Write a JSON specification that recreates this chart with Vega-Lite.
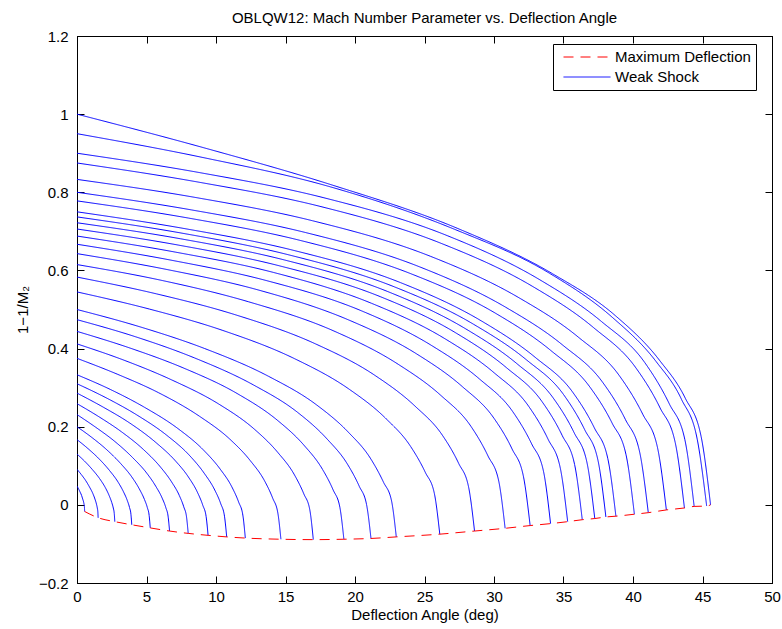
{
  "$schema": "https://vega.github.io/schema/vega-lite/v6.json",
  "width": 695,
  "height": 547,
  "autosize": {"type": "none"},
  "padding": {"left": 77, "top": 36, "right": 10, "bottom": 46},
  "background": "white",
  "title": {"text": "OBLQW12: Mach Number Parameter vs. Deflection Angle", "fontSize": 15, "font": "Liberation Sans", "fontWeight": "normal", "offset": 3, "anchor": "middle", "color": "black"},
  "config": {
    "view": {"stroke": "black", "strokeWidth": 1},
    "axis": {"domainColor": "black", "domainWidth": 1, "tickColor": "black", "tickWidth": 1, "tickSize": -7, "labelColor": "black", "labelFont": "Liberation Sans", "labelFontSize": 15, "titleFont": "Liberation Sans", "titleFontSize": 15, "titleFontWeight": "normal", "titleColor": "black", "grid": false, "labelFlush": false, "labelOverlap": false},
    "legend": {"title": null, "orient": "none", "legendX": 476, "legendY": 8, "direction": "vertical", "symbolType": "M-3.133,0H3.133", "symbolSize": 225, "symbolStrokeWidth": 1, "symbolOffset": 21, "labelOffset": 20, "labelFontSize": 15, "labelFont": "Liberation Sans", "labelColor": "black", "strokeColor": "black", "fillColor": "white", "padding": 5, "rowPadding": 4, "cornerRadius": 0}
  },
  "data": {"values": [
    {"m":"1.05","s":"Weak Shock","x":0,"y":0.048},{"m":"1.05","s":"Weak Shock","x":0.11,"y":0.041},{"m":"1.05","s":"Weak Shock","x":0.22,"y":0.033},{"m":"1.05","s":"Weak Shock","x":0.33,"y":0.024},{"m":"1.05","s":"Weak Shock","x":0.41,"y":0.015},{"m":"1.05","s":"Weak Shock","x":0.47,"y":0.008},{"m":"1.05","s":"Weak Shock","x":0.51,"y":0.001},{"m":"1.05","s":"Weak Shock","x":0.53,"y":-0.004},{"m":"1.05","s":"Weak Shock","x":0.54,"y":-0.009},{"m":"1.05","s":"Weak Shock","x":0.55,"y":-0.017},
    {"m":"1.1","s":"Weak Shock","x":0,"y":0.091},{"m":"1.1","s":"Weak Shock","x":0.30,"y":0.078},{"m":"1.1","s":"Weak Shock","x":0.61,"y":0.063},{"m":"1.1","s":"Weak Shock","x":0.91,"y":0.045},{"m":"1.1","s":"Weak Shock","x":1.14,"y":0.029},{"m":"1.1","s":"Weak Shock","x":1.29,"y":0.015},{"m":"1.1","s":"Weak Shock","x":1.40,"y":0.002},{"m":"1.1","s":"Weak Shock","x":1.46,"y":-0.008},{"m":"1.1","s":"Weak Shock","x":1.50,"y":-0.018},{"m":"1.1","s":"Weak Shock","x":1.52,"y":-0.033},
    {"m":"1.15","s":"Weak Shock","x":0,"y":0.130},{"m":"1.15","s":"Weak Shock","x":0.54,"y":0.112},{"m":"1.15","s":"Weak Shock","x":1.09,"y":0.091},{"m":"1.15","s":"Weak Shock","x":1.63,"y":0.067},{"m":"1.15","s":"Weak Shock","x":2.04,"y":0.044},{"m":"1.15","s":"Weak Shock","x":2.31,"y":0.024},{"m":"1.15","s":"Weak Shock","x":2.50,"y":0.006},{"m":"1.15","s":"Weak Shock","x":2.61,"y":-0.008},{"m":"1.15","s":"Weak Shock","x":2.68,"y":-0.022},{"m":"1.15","s":"Weak Shock","x":2.72,"y":-0.043},
    {"m":"1.2","s":"Weak Shock","x":0,"y":0.167},{"m":"1.2","s":"Weak Shock","x":0.79,"y":0.144},{"m":"1.2","s":"Weak Shock","x":1.58,"y":0.118},{"m":"1.2","s":"Weak Shock","x":2.36,"y":0.087},{"m":"1.2","s":"Weak Shock","x":2.96,"y":0.058},{"m":"1.2","s":"Weak Shock","x":3.35,"y":0.033},{"m":"1.2","s":"Weak Shock","x":3.62,"y":0.011},{"m":"1.2","s":"Weak Shock","x":3.78,"y":-0.007},{"m":"1.2","s":"Weak Shock","x":3.88,"y":-0.024},{"m":"1.2","s":"Weak Shock","x":3.94,"y":-0.051},
    {"m":"1.25","s":"Weak Shock","x":0,"y":0.200},{"m":"1.25","s":"Weak Shock","x":1.05,"y":0.173},{"m":"1.25","s":"Weak Shock","x":2.11,"y":0.142},{"m":"1.25","s":"Weak Shock","x":3.16,"y":0.105},{"m":"1.25","s":"Weak Shock","x":3.95,"y":0.071},{"m":"1.25","s":"Weak Shock","x":4.48,"y":0.041},{"m":"1.25","s":"Weak Shock","x":4.85,"y":0.014},{"m":"1.25","s":"Weak Shock","x":5.06,"y":-0.007},{"m":"1.25","s":"Weak Shock","x":5.19,"y":-0.027},{"m":"1.25","s":"Weak Shock","x":5.27,"y":-0.059},
    {"m":"1.3","s":"Weak Shock","x":0,"y":0.231},{"m":"1.3","s":"Weak Shock","x":1.33,"y":0.199},{"m":"1.3","s":"Weak Shock","x":2.66,"y":0.164},{"m":"1.3","s":"Weak Shock","x":4.0,"y":0.121},{"m":"1.3","s":"Weak Shock","x":5.0,"y":0.082},{"m":"1.3","s":"Weak Shock","x":5.66,"y":0.048},{"m":"1.3","s":"Weak Shock","x":6.13,"y":0.017},{"m":"1.3","s":"Weak Shock","x":6.39,"y":-0.007},{"m":"1.3","s":"Weak Shock","x":6.56,"y":-0.031},{"m":"1.3","s":"Weak Shock","x":6.66,"y":-0.067},
    {"m":"1.35","s":"Weak Shock","x":0,"y":0.259},{"m":"1.35","s":"Weak Shock","x":1.6,"y":0.225},{"m":"1.35","s":"Weak Shock","x":3.2,"y":0.187},{"m":"1.35","s":"Weak Shock","x":4.8,"y":0.141},{"m":"1.35","s":"Weak Shock","x":6.0,"y":0.097},{"m":"1.35","s":"Weak Shock","x":6.8,"y":0.059},{"m":"1.35","s":"Weak Shock","x":7.36,"y":0.024},{"m":"1.35","s":"Weak Shock","x":7.68,"y":-0.005},{"m":"1.35","s":"Weak Shock","x":7.88,"y":-0.031},{"m":"1.35","s":"Weak Shock","x":8.0,"y":-0.073},
    {"m":"1.4","s":"Weak Shock","x":0,"y":0.286},{"m":"1.4","s":"Weak Shock","x":1.89,"y":0.250},{"m":"1.4","s":"Weak Shock","x":3.77,"y":0.210},{"m":"1.4","s":"Weak Shock","x":5.66,"y":0.160},{"m":"1.4","s":"Weak Shock","x":7.07,"y":0.113},{"m":"1.4","s":"Weak Shock","x":8.02,"y":0.071},{"m":"1.4","s":"Weak Shock","x":8.68,"y":0.031},{"m":"1.4","s":"Weak Shock","x":9.05,"y":-0.001},{"m":"1.4","s":"Weak Shock","x":9.29,"y":-0.030},{"m":"1.4","s":"Weak Shock","x":9.43,"y":-0.078},
    {"m":"1.45","s":"Weak Shock","x":0,"y":0.310},{"m":"1.45","s":"Weak Shock","x":2.15,"y":0.273},{"m":"1.45","s":"Weak Shock","x":4.31,"y":0.230},{"m":"1.45","s":"Weak Shock","x":6.46,"y":0.178},{"m":"1.45","s":"Weak Shock","x":8.08,"y":0.127},{"m":"1.45","s":"Weak Shock","x":9.15,"y":0.081},{"m":"1.45","s":"Weak Shock","x":9.91,"y":0.038},{"m":"1.45","s":"Weak Shock","x":10.34,"y":0.003},{"m":"1.45","s":"Weak Shock","x":10.61,"y":-0.029},{"m":"1.45","s":"Weak Shock","x":10.77,"y":-0.082},
    {"m":"1.5","s":"Weak Shock","x":0,"y":0.333},{"m":"1.5","s":"Weak Shock","x":2.42,"y":0.295},{"m":"1.5","s":"Weak Shock","x":4.84,"y":0.250},{"m":"1.5","s":"Weak Shock","x":7.27,"y":0.195},{"m":"1.5","s":"Weak Shock","x":9.08,"y":0.141},{"m":"1.5","s":"Weak Shock","x":10.29,"y":0.092},{"m":"1.5","s":"Weak Shock","x":11.14,"y":0.046},{"m":"1.5","s":"Weak Shock","x":11.63,"y":0.007},{"m":"1.5","s":"Weak Shock","x":11.93,"y":-0.026},{"m":"1.5","s":"Weak Shock","x":12.11,"y":-0.085},
    {"m":"1.6","s":"Weak Shock","x":0,"y":0.375},{"m":"1.6","s":"Weak Shock","x":2.93,"y":0.334},{"m":"1.6","s":"Weak Shock","x":5.87,"y":0.287},{"m":"1.6","s":"Weak Shock","x":8.80,"y":0.227},{"m":"1.6","s":"Weak Shock","x":11.0,"y":0.168},{"m":"1.6","s":"Weak Shock","x":12.47,"y":0.113},{"m":"1.6","s":"Weak Shock","x":13.5,"y":0.061},{"m":"1.6","s":"Weak Shock","x":14.08,"y":0.017},{"m":"1.6","s":"Weak Shock","x":14.45,"y":-0.021},{"m":"1.6","s":"Weak Shock","x":14.67,"y":-0.088},
    {"m":"1.7","s":"Weak Shock","x":0,"y":0.412},{"m":"1.7","s":"Weak Shock","x":3.4,"y":0.370},{"m":"1.7","s":"Weak Shock","x":6.8,"y":0.320},{"m":"1.7","s":"Weak Shock","x":10.2,"y":0.258},{"m":"1.7","s":"Weak Shock","x":12.75,"y":0.194},{"m":"1.7","s":"Weak Shock","x":14.45,"y":0.134},{"m":"1.7","s":"Weak Shock","x":15.64,"y":0.077},{"m":"1.7","s":"Weak Shock","x":16.32,"y":0.028},{"m":"1.7","s":"Weak Shock","x":16.75,"y":-0.013},{"m":"1.7","s":"Weak Shock","x":17.0,"y":-0.089},
    {"m":"1.8","s":"Weak Shock","x":0,"y":0.444},{"m":"1.8","s":"Weak Shock","x":3.84,"y":0.401},{"m":"1.8","s":"Weak Shock","x":7.68,"y":0.350},{"m":"1.8","s":"Weak Shock","x":11.52,"y":0.285},{"m":"1.8","s":"Weak Shock","x":14.4,"y":0.217},{"m":"1.8","s":"Weak Shock","x":16.32,"y":0.153},{"m":"1.8","s":"Weak Shock","x":17.66,"y":0.091},{"m":"1.8","s":"Weak Shock","x":18.43,"y":0.038},{"m":"1.8","s":"Weak Shock","x":18.91,"y":-0.006},{"m":"1.8","s":"Weak Shock","x":19.2,"y":-0.088},
    {"m":"1.9","s":"Weak Shock","x":0,"y":0.474},{"m":"1.9","s":"Weak Shock","x":4.23,"y":0.430},{"m":"1.9","s":"Weak Shock","x":8.46,"y":0.376},{"m":"1.9","s":"Weak Shock","x":12.69,"y":0.307},{"m":"1.9","s":"Weak Shock","x":15.86,"y":0.237},{"m":"1.9","s":"Weak Shock","x":17.98,"y":0.169},{"m":"1.9","s":"Weak Shock","x":19.46,"y":0.104},{"m":"1.9","s":"Weak Shock","x":20.3,"y":0.048},{"m":"1.9","s":"Weak Shock","x":20.83,"y":0.001},{"m":"1.9","s":"Weak Shock","x":21.15,"y":-0.086},
    {"m":"2","s":"Weak Shock","x":0,"y":0.500},{"m":"2","s":"Weak Shock","x":4.59,"y":0.455},{"m":"2","s":"Weak Shock","x":9.19,"y":0.400},{"m":"2","s":"Weak Shock","x":13.78,"y":0.329},{"m":"2","s":"Weak Shock","x":17.23,"y":0.256},{"m":"2","s":"Weak Shock","x":19.52,"y":0.186},{"m":"2","s":"Weak Shock","x":21.13,"y":0.118},{"m":"2","s":"Weak Shock","x":22.05,"y":0.058},{"m":"2","s":"Weak Shock","x":22.63,"y":0.010},{"m":"2","s":"Weak Shock","x":22.97,"y":-0.082},
    {"m":"2.2","s":"Weak Shock","x":0,"y":0.545},{"m":"2.2","s":"Weak Shock","x":5.22,"y":0.501},{"m":"2.2","s":"Weak Shock","x":10.44,"y":0.447},{"m":"2.2","s":"Weak Shock","x":15.66,"y":0.374},{"m":"2.2","s":"Weak Shock","x":19.58,"y":0.296},{"m":"2.2","s":"Weak Shock","x":22.19,"y":0.222},{"m":"2.2","s":"Weak Shock","x":24.01,"y":0.149},{"m":"2.2","s":"Weak Shock","x":25.06,"y":0.083},{"m":"2.2","s":"Weak Shock","x":25.71,"y":0.029},{"m":"2.2","s":"Weak Shock","x":26.1,"y":-0.075},
    {"m":"2.4","s":"Weak Shock","x":0,"y":0.583},{"m":"2.4","s":"Weak Shock","x":5.72,"y":0.540},{"m":"2.4","s":"Weak Shock","x":11.44,"y":0.486},{"m":"2.4","s":"Weak Shock","x":17.16,"y":0.412},{"m":"2.4","s":"Weak Shock","x":21.45,"y":0.331},{"m":"2.4","s":"Weak Shock","x":24.31,"y":0.253},{"m":"2.4","s":"Weak Shock","x":26.31,"y":0.177},{"m":"2.4","s":"Weak Shock","x":27.46,"y":0.106},{"m":"2.4","s":"Weak Shock","x":28.17,"y":0.046},{"m":"2.4","s":"Weak Shock","x":28.6,"y":-0.067},
    {"m":"2.6","s":"Weak Shock","x":0,"y":0.615},{"m":"2.6","s":"Weak Shock","x":6.16,"y":0.574},{"m":"2.6","s":"Weak Shock","x":12.32,"y":0.520},{"m":"2.6","s":"Weak Shock","x":18.48,"y":0.445},{"m":"2.6","s":"Weak Shock","x":23.1,"y":0.360},{"m":"2.6","s":"Weak Shock","x":26.18,"y":0.280},{"m":"2.6","s":"Weak Shock","x":28.34,"y":0.201},{"m":"2.6","s":"Weak Shock","x":29.57,"y":0.125},{"m":"2.6","s":"Weak Shock","x":30.34,"y":0.061},{"m":"2.6","s":"Weak Shock","x":30.8,"y":-0.060},
    {"m":"2.8","s":"Weak Shock","x":0,"y":0.643},{"m":"2.8","s":"Weak Shock","x":6.52,"y":0.602},{"m":"2.8","s":"Weak Shock","x":13.04,"y":0.550},{"m":"2.8","s":"Weak Shock","x":19.56,"y":0.473},{"m":"2.8","s":"Weak Shock","x":24.45,"y":0.386},{"m":"2.8","s":"Weak Shock","x":27.71,"y":0.303},{"m":"2.8","s":"Weak Shock","x":29.99,"y":0.222},{"m":"2.8","s":"Weak Shock","x":31.3,"y":0.143},{"m":"2.8","s":"Weak Shock","x":32.11,"y":0.074},{"m":"2.8","s":"Weak Shock","x":32.6,"y":-0.053},
    {"m":"3","s":"Weak Shock","x":0,"y":0.667},{"m":"3","s":"Weak Shock","x":6.81,"y":0.626},{"m":"3","s":"Weak Shock","x":13.63,"y":0.574},{"m":"3","s":"Weak Shock","x":20.44,"y":0.497},{"m":"3","s":"Weak Shock","x":25.55,"y":0.407},{"m":"3","s":"Weak Shock","x":28.96,"y":0.322},{"m":"3","s":"Weak Shock","x":31.34,"y":0.239},{"m":"3","s":"Weak Shock","x":32.71,"y":0.156},{"m":"3","s":"Weak Shock","x":33.56,"y":0.086},{"m":"3","s":"Weak Shock","x":34.07,"y":-0.048},
    {"m":"3.2","s":"Weak Shock","x":0,"y":0.688},{"m":"3.2","s":"Weak Shock","x":7.06,"y":0.647},{"m":"3.2","s":"Weak Shock","x":14.12,"y":0.595},{"m":"3.2","s":"Weak Shock","x":21.18,"y":0.516},{"m":"3.2","s":"Weak Shock","x":26.48,"y":0.425},{"m":"3.2","s":"Weak Shock","x":30.01,"y":0.338},{"m":"3.2","s":"Weak Shock","x":32.48,"y":0.253},{"m":"3.2","s":"Weak Shock","x":33.89,"y":0.168},{"m":"3.2","s":"Weak Shock","x":34.77,"y":0.094},{"m":"3.2","s":"Weak Shock","x":35.3,"y":-0.043},
    {"m":"3.4","s":"Weak Shock","x":0,"y":0.706},{"m":"3.4","s":"Weak Shock","x":7.27,"y":0.665},{"m":"3.4","s":"Weak Shock","x":14.54,"y":0.612},{"m":"3.4","s":"Weak Shock","x":21.81,"y":0.533},{"m":"3.4","s":"Weak Shock","x":27.26,"y":0.440},{"m":"3.4","s":"Weak Shock","x":30.9,"y":0.351},{"m":"3.4","s":"Weak Shock","x":33.44,"y":0.265},{"m":"3.4","s":"Weak Shock","x":34.9,"y":0.178},{"m":"3.4","s":"Weak Shock","x":35.8,"y":0.103},{"m":"3.4","s":"Weak Shock","x":36.35,"y":-0.038},
    {"m":"3.6","s":"Weak Shock","x":0,"y":0.722},{"m":"3.6","s":"Weak Shock","x":7.45,"y":0.681},{"m":"3.6","s":"Weak Shock","x":14.9,"y":0.627},{"m":"3.6","s":"Weak Shock","x":22.35,"y":0.546},{"m":"3.6","s":"Weak Shock","x":27.94,"y":0.451},{"m":"3.6","s":"Weak Shock","x":31.66,"y":0.361},{"m":"3.6","s":"Weak Shock","x":34.27,"y":0.273},{"m":"3.6","s":"Weak Shock","x":35.76,"y":0.185},{"m":"3.6","s":"Weak Shock","x":36.69,"y":0.108},{"m":"3.6","s":"Weak Shock","x":37.25,"y":-0.035},
    {"m":"3.8","s":"Weak Shock","x":0,"y":0.737},{"m":"3.8","s":"Weak Shock","x":7.61,"y":0.695},{"m":"3.8","s":"Weak Shock","x":15.22,"y":0.640},{"m":"3.8","s":"Weak Shock","x":22.83,"y":0.558},{"m":"3.8","s":"Weak Shock","x":28.54,"y":0.462},{"m":"3.8","s":"Weak Shock","x":32.34,"y":0.371},{"m":"3.8","s":"Weak Shock","x":35.01,"y":0.282},{"m":"3.8","s":"Weak Shock","x":36.53,"y":0.192},{"m":"3.8","s":"Weak Shock","x":37.48,"y":0.114},{"m":"3.8","s":"Weak Shock","x":38.05,"y":-0.031},
    {"m":"4","s":"Weak Shock","x":0,"y":0.750},{"m":"4","s":"Weak Shock","x":7.75,"y":0.707},{"m":"4","s":"Weak Shock","x":15.51,"y":0.652},{"m":"4","s":"Weak Shock","x":23.26,"y":0.569},{"m":"4","s":"Weak Shock","x":29.08,"y":0.471},{"m":"4","s":"Weak Shock","x":32.95,"y":0.378},{"m":"4","s":"Weak Shock","x":35.67,"y":0.288},{"m":"4","s":"Weak Shock","x":37.22,"y":0.197},{"m":"4","s":"Weak Shock","x":38.19,"y":0.118},{"m":"4","s":"Weak Shock","x":38.77,"y":-0.029},
    {"m":"4.5","s":"Weak Shock","x":0,"y":0.778},{"m":"4.5","s":"Weak Shock","x":8.02,"y":0.734},{"m":"4.5","s":"Weak Shock","x":16.04,"y":0.677},{"m":"4.5","s":"Weak Shock","x":24.06,"y":0.591},{"m":"4.5","s":"Weak Shock","x":30.08,"y":0.491},{"m":"4.5","s":"Weak Shock","x":34.09,"y":0.395},{"m":"4.5","s":"Weak Shock","x":36.89,"y":0.302},{"m":"4.5","s":"Weak Shock","x":38.5,"y":0.209},{"m":"4.5","s":"Weak Shock","x":39.5,"y":0.128},{"m":"4.5","s":"Weak Shock","x":40.1,"y":-0.024},
    {"m":"5","s":"Weak Shock","x":0,"y":0.800},{"m":"5","s":"Weak Shock","x":8.22,"y":0.755},{"m":"5","s":"Weak Shock","x":16.44,"y":0.697},{"m":"5","s":"Weak Shock","x":24.66,"y":0.609},{"m":"5","s":"Weak Shock","x":30.83,"y":0.506},{"m":"5","s":"Weak Shock","x":34.94,"y":0.409},{"m":"5","s":"Weak Shock","x":37.81,"y":0.314},{"m":"5","s":"Weak Shock","x":39.46,"y":0.218},{"m":"5","s":"Weak Shock","x":40.48,"y":0.135},{"m":"5","s":"Weak Shock","x":41.1,"y":-0.020},
    {"m":"6","s":"Weak Shock","x":0,"y":0.833},{"m":"6","s":"Weak Shock","x":8.48,"y":0.787},{"m":"6","s":"Weak Shock","x":16.96,"y":0.727},{"m":"6","s":"Weak Shock","x":25.44,"y":0.636},{"m":"6","s":"Weak Shock","x":31.8,"y":0.530},{"m":"6","s":"Weak Shock","x":36.04,"y":0.430},{"m":"6","s":"Weak Shock","x":39.01,"y":0.331},{"m":"6","s":"Weak Shock","x":40.7,"y":0.232},{"m":"6","s":"Weak Shock","x":41.76,"y":0.147},{"m":"6","s":"Weak Shock","x":42.4,"y":-0.013},
    {"m":"8","s":"Weak Shock","x":0,"y":0.875},{"m":"8","s":"Weak Shock","x":8.74,"y":0.826},{"m":"8","s":"Weak Shock","x":17.48,"y":0.764},{"m":"8","s":"Weak Shock","x":26.22,"y":0.669},{"m":"8","s":"Weak Shock","x":32.78,"y":0.559},{"m":"8","s":"Weak Shock","x":37.15,"y":0.454},{"m":"8","s":"Weak Shock","x":40.2,"y":0.351},{"m":"8","s":"Weak Shock","x":41.95,"y":0.248},{"m":"8","s":"Weak Shock","x":43.04,"y":0.159},{"m":"8","s":"Weak Shock","x":43.7,"y":-0.008},
    {"m":"10","s":"Weak Shock","x":0,"y":0.900},{"m":"10","s":"Weak Shock","x":8.88,"y":0.850},{"m":"10","s":"Weak Shock","x":17.76,"y":0.786},{"m":"10","s":"Weak Shock","x":26.64,"y":0.689},{"m":"10","s":"Weak Shock","x":33.3,"y":0.576},{"m":"10","s":"Weak Shock","x":37.74,"y":0.469},{"m":"10","s":"Weak Shock","x":40.85,"y":0.364},{"m":"10","s":"Weak Shock","x":42.62,"y":0.258},{"m":"10","s":"Weak Shock","x":43.73,"y":0.167},{"m":"10","s":"Weak Shock","x":44.4,"y":-0.004},
    {"m":"20","s":"Weak Shock","x":0,"y":0.950},{"m":"20","s":"Weak Shock","x":9.06,"y":0.889},{"m":"20","s":"Weak Shock","x":18.12,"y":0.815},{"m":"20","s":"Weak Shock","x":27.18,"y":0.705},{"m":"20","s":"Weak Shock","x":33.98,"y":0.593},{"m":"20","s":"Weak Shock","x":38.51,"y":0.480},{"m":"20","s":"Weak Shock","x":41.68,"y":0.366},{"m":"20","s":"Weak Shock","x":43.49,"y":0.270},{"m":"20","s":"Weak Shock","x":44.62,"y":0.168},{"m":"20","s":"Weak Shock","x":45.3,"y":-0.003},
    {"m":"inf","s":"Weak Shock","x":0,"y":1.0},{"m":"inf","s":"Weak Shock","x":9.12,"y":0.914},{"m":"inf","s":"Weak Shock","x":18.23,"y":0.820},{"m":"inf","s":"Weak Shock","x":27.35,"y":0.708},{"m":"inf","s":"Weak Shock","x":34.19,"y":0.592},{"m":"inf","s":"Weak Shock","x":38.74,"y":0.484},{"m":"inf","s":"Weak Shock","x":41.93,"y":0.369},{"m":"inf","s":"Weak Shock","x":43.76,"y":0.273},{"m":"inf","s":"Weak Shock","x":44.9,"y":0.175},{"m":"inf","s":"Weak Shock","x":45.58,"y":0.0},
    {"m":"max","s":"Maximum Deflection","x":0.55,"y":-0.017},{"m":"max","s":"Maximum Deflection","x":1.52,"y":-0.033},{"m":"max","s":"Maximum Deflection","x":2.72,"y":-0.043},{"m":"max","s":"Maximum Deflection","x":3.94,"y":-0.051},{"m":"max","s":"Maximum Deflection","x":5.27,"y":-0.059},{"m":"max","s":"Maximum Deflection","x":6.66,"y":-0.067},{"m":"max","s":"Maximum Deflection","x":8.0,"y":-0.073},{"m":"max","s":"Maximum Deflection","x":9.43,"y":-0.078},{"m":"max","s":"Maximum Deflection","x":10.77,"y":-0.082},{"m":"max","s":"Maximum Deflection","x":12.11,"y":-0.085},{"m":"max","s":"Maximum Deflection","x":14.67,"y":-0.088},{"m":"max","s":"Maximum Deflection","x":17.0,"y":-0.089},{"m":"max","s":"Maximum Deflection","x":19.2,"y":-0.088},{"m":"max","s":"Maximum Deflection","x":21.15,"y":-0.086},{"m":"max","s":"Maximum Deflection","x":22.97,"y":-0.082},{"m":"max","s":"Maximum Deflection","x":26.1,"y":-0.075},{"m":"max","s":"Maximum Deflection","x":28.6,"y":-0.067},{"m":"max","s":"Maximum Deflection","x":30.8,"y":-0.060},{"m":"max","s":"Maximum Deflection","x":32.6,"y":-0.053},{"m":"max","s":"Maximum Deflection","x":34.07,"y":-0.048},{"m":"max","s":"Maximum Deflection","x":35.3,"y":-0.043},{"m":"max","s":"Maximum Deflection","x":36.35,"y":-0.038},{"m":"max","s":"Maximum Deflection","x":37.25,"y":-0.035},{"m":"max","s":"Maximum Deflection","x":38.05,"y":-0.031},{"m":"max","s":"Maximum Deflection","x":38.77,"y":-0.029},{"m":"max","s":"Maximum Deflection","x":40.1,"y":-0.024},{"m":"max","s":"Maximum Deflection","x":41.1,"y":-0.020},{"m":"max","s":"Maximum Deflection","x":42.4,"y":-0.013},{"m":"max","s":"Maximum Deflection","x":43.7,"y":-0.008},{"m":"max","s":"Maximum Deflection","x":44.4,"y":-0.004},{"m":"max","s":"Maximum Deflection","x":45.3,"y":-0.003},{"m":"max","s":"Maximum Deflection","x":45.58,"y":0.0}
  ]},
  "resolve": {"axis": {"x": "independent", "y": "independent"}},
  "layer": [
    {
      "mark": {"type": "line", "strokeWidth": 1, "clip": true, "interpolate": "monotone"},
      "encoding": {
        "x": {"field": "x", "type": "quantitative", "scale": {"domain": [0, 50], "nice": false, "zero": false},
              "axis": {"orient": "bottom", "values": [0,5,10,15,20,25,30,35,40,45,50], "title": "Deflection Angle (deg)", "labelPadding": 13, "titlePadding": 3}},
        "y": {"field": "y", "type": "quantitative", "scale": {"domain": [-0.2, 1.2], "nice": false, "zero": false},
              "axis": {"orient": "left", "values": [-0.2,0,0.2,0.4,0.6,0.8,1,1.2], "format": "~g", "title": "1−1/M₂", "labelPadding": 16, "titlePadding": 8}},
        "color": {"field": "s", "type": "nominal", "scale": {"domain": ["Maximum Deflection", "Weak Shock"], "range": ["#ff0000", "#0000ff"]}, "legend": {"title": null}},
        "strokeDash": {"field": "s", "type": "nominal", "scale": {"domain": ["Maximum Deflection", "Weak Shock"], "range": [[10, 7], [1, 0]]}, "legend": {"title": null}},
        "detail": {"field": "m", "type": "nominal"},
        "order": {"field": "x", "type": "quantitative"}
      }
    },
    {
      "mark": {"type": "point", "opacity": 0},
      "encoding": {
        "x": {"field": "x", "type": "quantitative", "scale": {"domain": [0, 50], "nice": false, "zero": false},
              "axis": {"orient": "top", "values": [0,5,10,15,20,25,30,35,40,45,50], "labels": false, "title": null}},
        "y": {"field": "y", "type": "quantitative", "scale": {"domain": [-0.2, 1.2], "nice": false, "zero": false},
              "axis": {"orient": "right", "values": [-0.2,0,0.2,0.4,0.6,0.8,1,1.2], "labels": false, "title": null}}
      }
    }
  ]
}
